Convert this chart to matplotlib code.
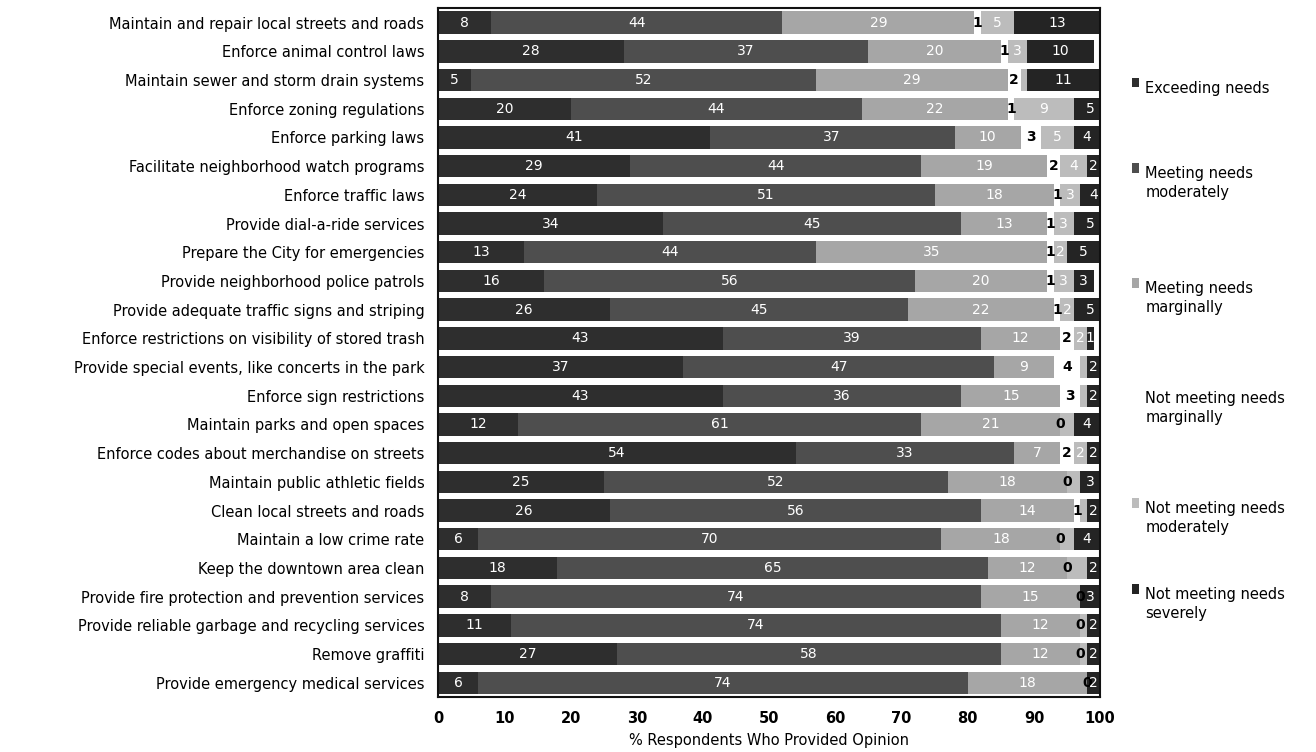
import numpy as np
import matplotlib
matplotlib.use("Agg")
from matplotlib import pyplot as plt
from matplotlib.patches import Rectangle

services = [
    "Maintain and repair local streets and roads",
    "Enforce animal control laws",
    "Maintain sewer and storm drain systems",
    "Enforce zoning regulations",
    "Enforce parking laws",
    "Facilitate neighborhood watch programs",
    "Enforce traffic laws",
    "Provide dial-a-ride services",
    "Prepare the City for emergencies",
    "Provide neighborhood police patrols",
    "Provide adequate traffic signs and striping",
    "Enforce restrictions on visibility of stored trash",
    "Provide special events, like concerts in the park",
    "Enforce sign restrictions",
    "Maintain parks and open spaces",
    "Enforce codes about merchandise on streets",
    "Maintain public athletic fields",
    "Clean local streets and roads",
    "Maintain a low crime rate",
    "Keep the downtown area clean",
    "Provide fire protection and prevention services",
    "Provide reliable garbage and recycling services",
    "Remove graffiti",
    "Provide emergency medical services",
]

exceeding = [8, 28, 5, 20, 41, 29, 24, 34, 13, 16, 26, 43, 37, 43, 12, 54, 25, 26, 6, 18, 8, 11, 27, 6]
meet_mod = [44, 37, 52, 44, 37, 44, 51, 45, 44, 56, 45, 39, 47, 36, 61, 33, 52, 56, 70, 65, 74, 74, 58, 74]
meet_marg = [29, 20, 29, 22, 10, 19, 18, 13, 35, 20, 22, 12, 9, 15, 21, 7, 18, 14, 18, 12, 15, 12, 12, 18]
not_marg = [1, 1, 2, 1, 3, 2, 1, 1, 1, 1, 1, 2, 4, 3, 0, 2, 0, 1, 0, 0, 0, 0, 0, 0]
not_mod = [5, 3, 1, 9, 5, 4, 3, 3, 2, 3, 2, 2, 1, 1, 2, 2, 2, 1, 2, 3, 0, 1, 1, 0]
not_sev = [13, 10, 11, 5, 4, 2, 4, 5, 5, 3, 5, 1, 2, 2, 4, 2, 3, 2, 4, 2, 3, 2, 2, 2]

series_names = ["Exceeding needs", "Meeting needs\nmoderately", "Meeting needs\nmarginally",
                "Not meeting needs\nmarginally", "Not meeting needs\nmoderately", "Not meeting needs\nseverely"]
series = [exceeding, meet_mod, meet_marg, not_marg, not_mod, not_sev]
colors = ["#2e2e2e", "#4e4e4e", "#a6a6a6", "#ffffff", "#bcbcbc", "#242424"]

plt.rcParams['font.family'] = ['DejaVu Sans']

fig = plt.figure(figsize=(13.16, 7.52), dpi=100)
ax = fig.add_axes([0.333, 0.073, 0.503, 0.916])

y = np.arange(len(services))
left = np.zeros(len(services))
for k, (vals, col) in enumerate(zip(series, colors)):
    vals = np.array(vals, dtype=float)
    ax.barh(y, vals, left=left, height=0.78, color=col, edgecolor='none')
    for i, v in enumerate(vals):
        if v == 0 and k != 3:
            continue
        # tiny "moderately" slices are hidden behind the neighbouring label
        if k == 4 and (v <= 1 or not_marg[i] == 0):
            continue
        cx = left[i] + v / 2
        if k == 3:
            ax.text(cx, y[i], f"{int(v)}", ha='center', va='center', fontsize=10,
                    color='black', fontweight='bold')
        else:
            ax.text(cx, y[i], f"{int(v)}", ha='center', va='center', fontsize=10,
                    color='white')
    left = left + vals

ax.set_xlim(0, 100)
ax.set_ylim(len(services) - 0.5, -0.5)
ax.set_yticks(y)
ax.set_yticklabels(services, fontsize=10.5)
ax.set_xticks(np.arange(0, 101, 10))
ax.tick_params(axis='both', length=0)
ax.tick_params(axis='y', pad=10)
ax.tick_params(axis='x', pad=10, labelsize=10.5)
for lab in ax.get_xticklabels():
    lab.set_fontweight('bold')
ax.set_xlabel("% Respondents Who Provided Opinion", fontsize=10.5, labelpad=5)
for s in ax.spines.values():
    s.set_linewidth(1.5)
    s.set_color('#111111')

# legend drawn beside the plot
leg_y = [0.893, 0.769, 0.602, 0.443, 0.283, 0.158]
for name, col, ly in zip(series_names, colors, leg_y):
    ax.add_patch(Rectangle((1.048, ly - 0.008), 0.011, 0.014, transform=ax.transAxes,
                           facecolor=col, edgecolor='none', clip_on=False))
    ax.text(1.068, ly + 0.002, name, transform=ax.transAxes, fontsize=10.5,
            va='top', ha='left', linespacing=1.35)

fig.savefig("out.png", dpi=100)
